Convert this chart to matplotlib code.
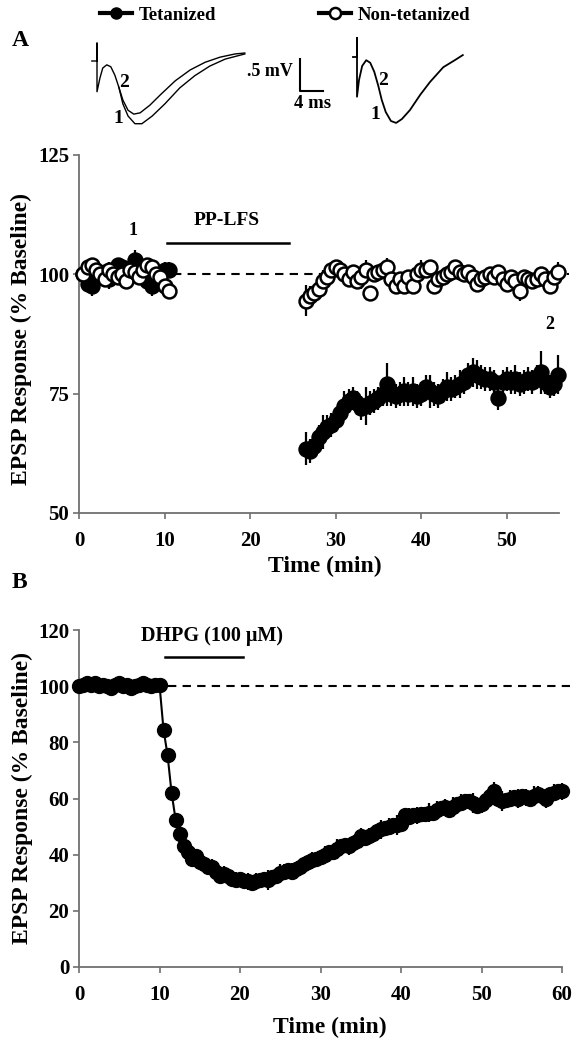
import numpy as np
import matplotlib
matplotlib.use('Agg')
import matplotlib.pyplot as plt
from matplotlib.lines import Line2D

plt.rcParams['font.family'] = ['Liberation Serif', 'DejaVu Serif']
plt.rcParams['font.weight'] = 'bold'
plt.rcParams['axes.labelweight'] = 'bold'

# ---- Panel A data (% baseline) ----
tA_base = np.arange(0.5, 10.51, 0.5)
tA_post = np.arange(26.5, 56.01, 0.5)

tet_base = [100, 98, 97.5, 100, 99.5, 100.5, 99, 101, 102, 101.5, 99.5,
            100.5, 103, 101, 100, 98.5, 97.5, 99, 100, 101, 101]
tet_base_err = [1.5, 1.5, 2, 1.5, 1.5, 1.5, 2, 1.5, 1.5, 1.5, 1.5,
                1.5, 2, 1.5, 1.5, 1.5, 2, 1.5, 1.5, 1.5, 1.5]
non_base = [100, 101.5, 102, 101, 100, 99, 101, 100, 99.5, 100, 98.5,
            101, 100.5, 99.5, 101, 102, 101.5, 100, 99.5, 97.5, 96.5]
non_base_err = [1.5] * 21

tet_post = [63.5, 63, 64, 66, 67, 68, 68.5, 69.5, 71, 72.5,
            73.5, 74, 73, 72, 72.5, 73, 73.5, 74, 75, 77,
            75, 74.5, 75, 75.5, 75, 75.5, 74.5, 75, 76.5, 75.5,
            75, 74.5, 75.5, 76.5, 76, 76.5, 77, 77.5, 79, 79.5,
            79, 78.5, 78, 78, 77.5, 74, 77.5, 78, 77.5, 78,
            77, 77.5, 78, 77.5, 78.5, 79.5, 77.5, 76.5, 77, 79]
tet_post_err = [3.5, 2.5, 2.5, 2.5, 3.5, 2.5, 2.5, 2.5, 2.5, 3,
                2.5, 2.5, 2.5, 2.5, 4, 2.5, 2.5, 2.5, 2.5, 4.5,
                2.5, 2.5, 2.5, 3, 2.5, 3, 2.5, 2.5, 2.5, 3.5,
                2.5, 2.5, 2.5, 3, 2.5, 2.5, 3, 2.5, 2.5, 3,
                3, 2.5, 2.5, 2.5, 2.5, 2.5, 2.5, 2.5, 2.5, 3,
                2.5, 2.5, 2.5, 2.5, 2.5, 4.5, 2.5, 2.5, 2.5, 4]
non_post = [94.5, 95.5, 96, 97, 98.5, 99.5, 101, 101.5, 101, 100,
            99, 100.5, 98.5, 99.5, 101, 96, 100, 100.5, 101, 101.5,
            99, 97.5, 99, 97.5, 99.5, 97.5, 100, 101, 101, 101.5,
            97.5, 99, 99.5, 100, 100.5, 101.5, 100.5, 100, 100.5, 99.5,
            98, 99, 99.5, 100, 99.5, 100.5, 99, 98, 99.5, 98.5,
            96.5, 99.5, 99, 98.5, 99, 100, 99, 97.5, 99.5, 100.5]
non_post_err = [3.2, 2, 1.5, 2, 2.5, 1.5, 1.5, 1.5, 1.5, 1.5,
                1.5, 1.5, 1.5, 2.5, 2, 1.5, 1.5, 1.5, 1.5, 2,
                1.5, 1.5, 1.5, 1.5, 1.5, 1.5, 1.5, 2, 1.5, 1.5,
                1.5, 1.5, 1.5, 1.5, 1.5, 1.5, 1.5, 1.5, 1.5, 1.5,
                1.5, 1.5, 1.5, 1.5, 1.5, 1.5, 1.5, 1.5, 1.5, 1.5,
                2, 1.5, 1.5, 1.5, 1.5, 1.5, 1.5, 1.5, 1.5, 2]

# ---- Panel B data (% baseline) ----
dhpg = [100, 100.5, 101, 100.5, 101, 100, 100.5, 100, 99.5, 100.5, 101,
        100, 100.5, 99.5, 100, 100.5, 101, 100.5, 100, 100.5, 100.5,
        84.5, 75.5, 62, 52.5, 47.5, 43, 41, 38.5, 39.5, 37.5,
        36.5, 35.5, 35.5, 34, 32.5, 33, 32.5, 31.5, 31, 31.5,
        30.5, 30.5, 30, 30.5, 31, 31.5, 31, 32, 32.5, 33.5,
        34, 34.5, 34, 35, 35.5, 36.5, 37.5, 38, 38.5, 39,
        40, 41, 41, 42, 43, 43.5, 43, 44, 45, 46.5,
        46, 46.5, 47.5, 48.5, 49, 49.5, 50, 50.5, 50.5, 51,
        54, 53.5, 54, 54, 54.5, 54.5, 55, 55, 56, 56.5,
        57, 56, 57, 58, 58.5, 59, 59, 58.5, 57.5, 58,
        59.5, 61, 62.5, 60, 59, 59.5, 60, 60.5, 60, 61,
        60.5, 60, 61, 61.5, 61, 60, 61.5, 62, 62.5, 62.5]
tB = 0.5 * np.arange(len(dhpg))
dhpg_err = ([1] * 21 +
            [1.5, 1.5, 2, 2, 2, 2, 2.5, 2.5, 2.5, 3,
             2.5, 2.5, 3, 2.5, 2.5, 3, 2.5, 2.5, 3, 2.5,
             2.5, 3, 2.5, 3, 2.5, 2.5, 3.5, 2.5, 2.5, 3,
             2.5, 2.5, 3, 2.5, 3, 2.5, 2.5, 3, 2.5, 2.5,
             3, 2.5, 2.5, 3.5, 2.5, 2.5, 3, 2.5, 2.5, 3,
             2.5, 3, 2.5, 2.5, 3.5, 2.5, 3, 2.5, 3.5, 2.5,
             2.5, 3, 2.5, 3, 2.5, 2.5, 3.5, 2.5, 3, 2.5,
             3, 2.5, 3.5, 2.5, 3, 2.5, 2.5, 3.5, 2.5, 3,
             2.5, 3, 3.5, 2.5, 3.5, 2.5, 3, 2.5, 3.5, 2.5,
             3, 2.5, 3.5, 3, 2.5, 3.5, 2.5, 3, 2.5, 3])

# ---- example field EPSP traces (ms, mV) ----
trL_t = [-0.9, 0, 0, 0, 0.5, 1.0, 1.7, 2.4, 3.1, 3.8, 4.5, 5.4, 6.4, 7.5, 9.2,
         11, 13.6, 16.2, 18.8, 21.4, 24, 25.7]
trL2_v = [0, 0, 0.28, -0.48, -0.27, -0.11, -0.06, -0.09, -0.22, -0.41, -0.61,
          -0.77, -0.83, -0.81, -0.69, -0.53, -0.31, -0.14, -0.02, 0.06, 0.11, 0.125]
trL1_t = [3.8, 4.5, 5.4, 6.6, 7.8, 9.6, 11.8, 14.4, 17, 19.6, 22.3, 25.7]
trL1_v = [-0.41, -0.67, -0.86, -0.98, -0.98, -0.86, -0.67, -0.42, -0.23,
          -0.08, 0.03, 0.11]
trR_t = [-0.7, 0, 0, 0, 0.35, 0.9, 1.6, 2.3, 3.0, 3.7, 4.3, 5.0, 5.9, 6.8,
         7.8, 9.2, 11, 12.7, 15, 17, 18.4]
trR_v = [0, 0, 0.3, -0.62, -0.36, -0.14, -0.05, -0.09, -0.23, -0.45, -0.67,
         -0.86, -1.0, -1.03, -0.97, -0.83, -0.59, -0.39, -0.16, -0.05, 0.03]

W, H = 583, 1050
fig = plt.figure(figsize=(W / 100, H / 100), dpi=100)
spine_col = '#707070'


def style_axes(ax):
    for s in ['top', 'right']:
        ax.spines[s].set_visible(False)
    for s in ['left', 'bottom']:
        ax.spines[s].set_color(spine_col)
        ax.spines[s].set_linewidth(1.3)
    ax.tick_params(direction='out', length=4, width=1.2, color=spine_col,
                   labelsize=15)
    ax.tick_params(axis='x', pad=9)
    ax.tick_params(axis='y', pad=3)
    for lab in ax.get_xticklabels() + ax.get_yticklabels():
        lab.set_fontweight('bold')


# ---------------- Panel A ----------------
axA = fig.add_axes([79 / W, 1 - 513 / H, 480 / W, 358 / H])
axA.set_xlim(0, 56.1)
axA.set_ylim(50, 125)
axA.set_xticks([0, 10, 20, 30, 40, 50])
axA.set_yticks([50, 75, 100, 125])
style_axes(axA)

eb = dict(fmt='o', color='k', ecolor='k', elinewidth=1.6, capsize=0,
          ms=10, mew=1.8, mec='k', clip_on=False)
axA.errorbar(tA_base, tet_base, yerr=tet_base_err, mfc='k', zorder=3, **eb)
axA.errorbar(tA_base, non_base, yerr=non_base_err, mfc='white', zorder=4, **eb)
axA.errorbar(tA_post, non_post, yerr=non_post_err, mfc='white', zorder=4, **eb)
axA.errorbar(tA_post, tet_post, yerr=tet_post_err, mfc='k', zorder=3, **eb)

axA.plot([11, 57.3], [100, 100], color='k', lw=1.5, dashes=(4, 3),
         clip_on=False, zorder=2)
axA.plot([10.3, 24.5], [106.6, 106.6], color='k', lw=1.8)
axA.text(17.3, 109.5, 'PP-LFS', ha='center', va='bottom', fontsize=14)
axA.text(6.3, 107.5, '1', ha='center', va='bottom', fontsize=13)
axA.text(55.0, 89.5, '2', ha='center', va='center', fontsize=13)

axA.set_xlabel('Time (min)', fontsize=17)
axA.set_ylabel('EPSP Response (% Baseline)', fontsize=17)
axA.xaxis.set_label_coords(0.513, -0.12)
axA.yaxis.set_label_coords(-0.098, 0.487)

# ---------------- Panel B ----------------
axB = fig.add_axes([79 / W, 1 - 967 / H, 483 / W, 337 / H])
axB.set_xlim(0, 60)
axB.set_ylim(0, 120)
axB.set_xticks(range(0, 61, 10))
axB.set_yticks(range(0, 121, 20))
style_axes(axB)

axB.errorbar(tB, dhpg, yerr=dhpg_err, fmt='-o', color='k', ecolor='k',
             elinewidth=1.6, capsize=0, ms=10, mfc='k', mec='k', lw=1.5,
             clip_on=False, zorder=3)
axB.plot([11, 61], [100, 100], color='k', lw=1.5, dashes=(4, 3),
         clip_on=False, zorder=2)
axB.plot([10.7, 20.4], [110.3, 110.3], color='k', lw=1.8)
axB.text(16.5, 118, 'DHPG (100 \u03bcM)', ha='center', va='center', fontsize=14.5)

axB.set_xlabel('Time (min)', fontsize=17)
axB.set_ylabel('EPSP Response (% Baseline)', fontsize=17)
axB.xaxis.set_label_coords(0.52, -0.148)
axB.yaxis.set_label_coords(-0.095, 0.5)

# ---------------- traces ----------------
px_ms, px_mv = 5.75, 64.0
axT = fig.add_axes([80 / W, 1 - 135 / H, 400 / W, 105 / H])
axT.set_xlim(0, 400 / px_ms)
axT.set_ylim(-74 / px_mv, 31 / px_mv)
axT.axis('off')
offL = 17 / px_ms
offR = 277 / px_ms
dyR = 4 / px_mv
axT.plot(np.array(trL_t) + offL, trL2_v, color='k', lw=1.0)
axT.plot(np.array(trL1_t) + offL, trL1_v, color='k', lw=1.0)
axT.plot(np.array(trR_t) + offR, np.array(trR_v) + dyR, color='k', lw=1.3)
# scale bar: 4 ms, 0.5 mV
sx, sy = 220 / px_ms, -30 / px_mv
axT.plot([sx, sx, sx + 4], [sy + 0.5, sy, sy], color='k', lw=1.5)
axT.text(sx - 1.2, sy + 0.3, '.5 mV', ha='right', va='center', fontsize=13)
axT.text(sx + 2.1, sy - 0.2, '4 ms', ha='center', va='center', fontsize=13.5)
axT.text(7.65, -0.33, '2', ha='center', va='center', fontsize=14)
axT.text(6.6, -0.9, '1', ha='center', va='center', fontsize=14)
axT.text(52.7, -0.30, '2', ha='center', va='center', fontsize=14)
axT.text(51.3, -0.84, '1', ha='center', va='center', fontsize=14)

# ---------------- legend & panel letters ----------------
handles = [Line2D([], [], color='k', lw=3, marker='o', ms=8, mfc='k', mec='k'),
           Line2D([], [], color='k', lw=3, marker='o', ms=8, mfc='white',
                  mec='k', mew=1.8)]
fig.legend(handles, ['Tetanized', 'Non-tetanized'], loc='center left',
           bbox_to_anchor=(100 / W, 1 - 15 / H), ncol=2, frameon=False,
           fontsize=13.5, handlelength=1.7, handletextpad=0.35,
           columnspacing=5.5, borderpad=0, borderaxespad=0)

fig.text(12 / W, 1 - 40 / H, 'A', fontsize=17, va='center', ha='left')
fig.text(12 / W, 1 - 583 / H, 'B', fontsize=17, va='center', ha='left')

fig.savefig('out.png', dpi=100)
